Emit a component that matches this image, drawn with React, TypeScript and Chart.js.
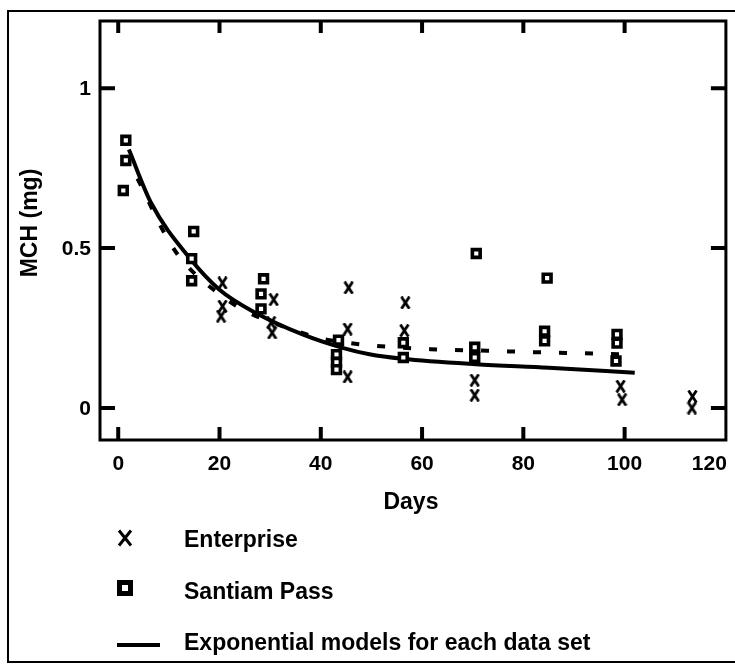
import React, { useEffect, useRef } from "react";
import { Chart, registerables } from "chart.js";

Chart.register(...registerables);

// ---- Data ----
const enterpriseDays = [20.6, 20.6, 20.3, 30.7, 30.2, 30.4, 45.5, 45.3, 45.3, 56.7, 56.5, 70.4, 70.4, 99.2, 99.5, 113.4, 113.3];
const enterpriseMCH = [0.391, 0.318, 0.287, 0.339, 0.267, 0.235, 0.376, 0.247, 0.097, 0.329, 0.242, 0.087, 0.04, 0.068, 0.026, 0.036, 0.0];

const santiamDays = [1.5, 1.5, 1.0, 14.9, 14.5, 14.5, 28.7, 28.2, 28.2, 43.5, 43.1, 43.1, 43.1, 56.3, 56.3, 70.7, 70.4, 70.4, 84.7, 84.2, 84.2, 98.5, 98.5, 98.3];
const santiamMCH = [0.837, 0.774, 0.68, 0.552, 0.467, 0.398, 0.404, 0.357, 0.31, 0.212, 0.167, 0.143, 0.12, 0.204, 0.158, 0.483, 0.19, 0.158, 0.406, 0.24, 0.21, 0.23, 0.203, 0.147];

const modelSolidDays = [2.1, 6.5, 14.1, 20, 27.2, 36.4, 44.3, 49.6, 56.1, 70.6, 85, 102];
const modelSolidMCH = [0.808, 0.641, 0.469, 0.37, 0.297, 0.23, 0.188, 0.168, 0.154, 0.137, 0.126, 0.11];

const modelDashedDays = [1.5, 4.2, 8.5, 11.6, 15.3, 19.7, 24.3, 34.4, 39.7, 45.3, 50.5, 61.7, 72.9, 83.7, 94.9, 100.8];
const modelDashedMCH = [0.79, 0.705, 0.565, 0.483, 0.417, 0.36, 0.31, 0.245, 0.219, 0.204, 0.195, 0.184, 0.179, 0.174, 0.17, 0.167];

const xTickValues = [0, 20, 40, 60, 80, 100, 120];
const xTickLabels = ["0", "20", "40", "60", "80", "100", "120"];
const yTickValues = [0, 0.5, 1];
const yTickLabels = ["0", "0.5", "1"];

const xTitle = "Days";
const yTitle = "MCH (mg)";
const legendLabels = ["Enterprise", "Santiam Pass", "Exponential models for each data set"];

const FONT = '"Liberation Sans", Arial, sans-serif';

function toPoints(xs: number[], ys: number[]) {
  return xs.map((x, i) => ({ x, y: ys[i] }));
}

function makeXGlyph(w: number, h: number, lw: number) {
  const c = document.createElement("canvas");
  c.width = w;
  c.height = h;
  const g = c.getContext("2d")!;
  g.strokeStyle = "#000";
  g.lineWidth = lw;
  g.lineCap = "butt";
  g.beginPath();
  g.moveTo(1.5, 0.5);
  g.lineTo(w - 1.5, h - 0.5);
  g.moveTo(w - 1.5, 0.5);
  g.lineTo(1.5, h - 0.5);
  g.stroke();
  return c;
}

const framePlugin = {
  id: "framePlugin",
  afterDatasetsDraw(chart: any) {
    const { ctx, chartArea: a } = chart;
    const xs = chart.scales.x;
    const ys = chart.scales.y;
    ctx.save();
    ctx.strokeStyle = "#000";
    ctx.fillStyle = "#000";

    // outer border (right side lies outside the picture)
    ctx.lineWidth = 2;
    ctx.beginPath();
    ctx.moveTo(760, 11);
    ctx.lineTo(8, 11);
    ctx.lineTo(8, 662);
    ctx.lineTo(760, 662);
    ctx.stroke();

    // plot frame
    ctx.lineWidth = 3;
    ctx.strokeRect(a.left, a.top, a.right - a.left, a.bottom - a.top);

    // inward ticks
    ctx.lineWidth = 4;
    ctx.beginPath();
    xTickValues.forEach((v) => {
      const px = xs.getPixelForValue(v);
      if (px > a.right - 3) return;
      ctx.moveTo(px, a.bottom);
      ctx.lineTo(px, a.bottom - 13);
      ctx.moveTo(px, a.top);
      ctx.lineTo(px, a.top + 12);
    });
    yTickValues.forEach((v) => {
      const py = ys.getPixelForValue(v);
      ctx.moveTo(a.left, py);
      ctx.lineTo(a.left + 15, py);
      ctx.moveTo(a.right, py);
      ctx.lineTo(a.right - 15, py);
    });
    ctx.stroke();

    // tick labels
    ctx.font = `bold 21px ${FONT}`;
    ctx.textBaseline = "alphabetic";
    xTickValues.forEach((v, i) => {
      const px = xs.getPixelForValue(v);
      const w = ctx.measureText(xTickLabels[i]).width;
      if (px + w / 2 > a.right + 1) {
        ctx.textAlign = "right";
        ctx.fillText(xTickLabels[i], a.right + 1, 470);
      } else {
        ctx.textAlign = "center";
        ctx.fillText(xTickLabels[i], px, 470);
      }
    });
    ctx.textAlign = "right";
    ctx.textBaseline = "middle";
    yTickValues.forEach((v, i) => {
      const py = ys.getPixelForValue(v);
      ctx.fillText(yTickLabels[i], a.left - 9, py + 1);
    });

    // axis titles
    ctx.font = `bold 23px ${FONT}`;
    ctx.textAlign = "center";
    ctx.textBaseline = "alphabetic";
    ctx.fillText(xTitle, (a.left + a.right) / 2 - 2, 509);
    ctx.save();
    ctx.translate(36.5, 223);
    ctx.rotate(-Math.PI / 2);
    ctx.fillText(yTitle, 0, 0);
    ctx.restore();

    // legend
    const lx = 125;
    // X symbol
    ctx.lineWidth = 3;
    ctx.beginPath();
    ctx.moveTo(lx - 6, 530.5);
    ctx.lineTo(lx + 6, 545.5);
    ctx.moveTo(lx + 6, 530.5);
    ctx.lineTo(lx - 6, 545.5);
    ctx.stroke();
    // square symbol
    ctx.lineWidth = 5;
    ctx.strokeRect(lx - 5.5, 588 - 5.5, 11, 11);
    // line symbol
    ctx.lineWidth = 4;
    ctx.beginPath();
    ctx.moveTo(117, 645);
    ctx.lineTo(160, 645);
    ctx.stroke();

    ctx.font = `bold 23px ${FONT}`;
    ctx.textAlign = "left";
    ctx.textBaseline = "alphabetic";
    ctx.fillText(legendLabels[0], 184, 547);
    ctx.fillText(legendLabels[1], 184, 599);
    ctx.fillText(legendLabels[2], 184, 650);

    ctx.restore();
  },
};

export default function App() {
  const canvasRef = useRef<HTMLCanvasElement | null>(null);

  useEffect(() => {
    const canvas = canvasRef.current;
    if (!canvas) return;
    const xGlyph = makeXGlyph(11, 13, 2.8);

    const chart = new Chart(canvas, {
      type: "scatter",
      data: {
        datasets: [
          {
            label: legendLabels[0],
            data: toPoints(enterpriseDays, enterpriseMCH),
            pointStyle: xGlyph as any,
            pointRadius: 6,
            borderColor: "#000",
            backgroundColor: "#000",
            showLine: false,
          },
          {
            label: legendLabels[1],
            data: toPoints(santiamDays, santiamMCH),
            pointStyle: "rect",
            pointRadius: 5.5,
            pointBorderWidth: 3.6,
            borderColor: "#000",
            backgroundColor: "#fff",
            showLine: false,
          },
          {
            label: "Model (solid)",
            data: toPoints(modelSolidDays, modelSolidMCH),
            showLine: true,
            borderColor: "#000",
            borderWidth: 4,
            pointRadius: 0,
            cubicInterpolationMode: "monotone",
            fill: false,
          },
          {
            label: "Model (dashed)",
            data: toPoints(modelDashedDays, modelDashedMCH),
            showLine: true,
            borderColor: "#000",
            borderWidth: 4,
            borderDash: [8, 18],
            pointRadius: 0,
            cubicInterpolationMode: "monotone",
            fill: false,
          },
        ],
      },
      options: {
        animation: false,
        responsive: false,
        devicePixelRatio: 1,
        layout: { padding: { left: 100, top: 21, right: 7, bottom: 224 } },
        plugins: {
          legend: { display: false },
          tooltip: { enabled: false },
        },
        scales: {
          x: { type: "linear", min: -3.6, max: 120, display: false },
          y: { type: "linear", min: -0.1, max: 1.21, display: false },
        },
      },
      plugins: [framePlugin],
    });

    return () => chart.destroy();
  }, []);

  return (
    <div style={{ position: "absolute", left: 0, top: 0, width: 735, height: 664, background: "#fff", overflow: "hidden" }}>
      <canvas ref={canvasRef} width={735} height={664} style={{ display: "block" }} />
    </div>
  );
}
